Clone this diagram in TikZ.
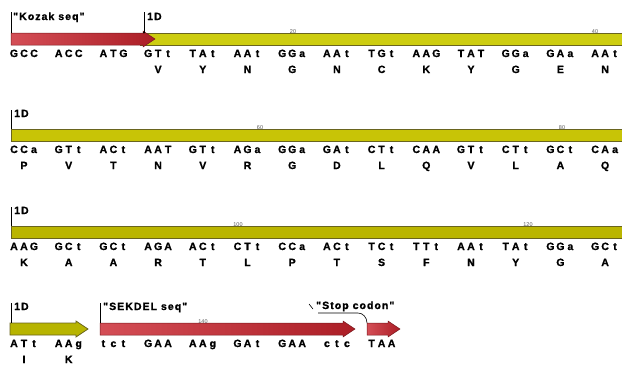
\documentclass[tikz,border=0pt]{standalone}
\usepackage{fontspec}
\setmainfont{Liberation Sans}
\newfontfamily\lblfont[LetterSpace=10,BoldFeatures={FakeBold=1.2}]{Liberation Sans}
\newfontfamily\codfont[BoldFeatures={FakeBold=1.2}]{Liberation Sans}
\definecolor{yA}{RGB}{205,205,16}
\definecolor{yB}{RGB}{200,196,6}
\definecolor{yC}{RGB}{186,181,0}
\definecolor{yD}{RGB}{183,180,0}
\definecolor{yEdge}{RGB}{105,100,30}
\definecolor{redL}{RGB}{212,78,86}
\definecolor{redR}{RGB}{172,30,38}
\definecolor{redEdge}{RGB}{120,25,30}
\newcommand\cdn[3]{\makebox[10pt]{#1}\makebox[10pt]{#2}\makebox[10pt]{#3}}
\tikzset{
  cod/.style={font=\codfont\bfseries\fontsize{10.5}{10.5}\selectfont, inner sep=0pt, anchor=base},
  lbl/.style={font=\lblfont\bfseries\fontsize{10.5}{10.5}\selectfont, inner sep=0pt, anchor=base west},
  num/.style={font=\fontsize{5.5}{5.5}\selectfont, text=black!65, inner sep=0pt, anchor=base},
  tickline/.style={draw=black, line width=0.7pt},
  ybar/.style={draw=yEdge, line width=0.8pt},
  rarrow/.style={left color=redL, right color=redR, draw=redEdge, line width=0.5pt},
  leader/.style={draw=black, line width=0.6pt}
}
% arrow shape: x1, x2 (tip), top y
\newcommand\arrowshape[3]{(#1,#3) -- ({#2-12},#3) -- ({#2-12},{#3-2}) -- (#2,{#3+6}) -- ({#2-12},{#3+14}) -- ({#2-12},{#3+12}) -- (#1,{#3+12}) -- cycle}
% row of codons: name, bar top, list a/b/c/aa
\newcommand\seqrow[3]{%
  \foreach \a/\b/\c/\p [count=\i from 0] in {#3} {
    \node[cod] (#1c\i) at ({24+44.7*\i},{#2+24}) {\cdn{\a}{\b}{\c}};
    \node[cod] (#1a\i) at ({24+44.7*\i},{#2+40}) {\p};
  }}
\begin{document}
\begin{tikzpicture}[x=1pt,y=-1pt]
\clip (0,0) rectangle (622,365);
\fill[white] (0,0) rectangle (622,365);

% ---------- row 1 ----------
\fill[yA] (140,33) rectangle (630,45);
\draw[ybar] (140,33) -- (630,33) (140,45) -- (630,45);
\draw[rarrow] \arrowshape{11}{155}{33};
\draw[tickline] (11,12) -- (11,33);
\draw[tickline] (144,12) -- (144,33);
\fill (144,32.5) circle (1pt);
\node[lbl] (kozak) at (13,20) {"Kozak seq"};
\node[lbl] (d1) at (147,20) {1D};
\node[num] (n20) at (293,33.3) {20};
\node[num] (n40) at (595,33.3) {40};
\seqrow{r1}{33}{G/C/C/{}, A/C/C/{}, A/T/G/{}, G/T/t/V, T/A/t/Y, A/A/t/N, G/G/a/G, A/A/t/N, T/G/t/C, A/A/G/K, T/A/T/Y, G/G/a/G, G/A/a/E, A/A/t/N}

% ---------- row 2 ----------
\fill[yB] (11,129) rectangle (630,141);
\draw[ybar] (11,129) -- (630,129) (11,141) -- (630,141) (11,129) -- (11,141);
\draw[tickline] (11,110) -- (11,129);
\node[lbl] (d2) at (14,117) {1D};
\node[num] (n60) at (260,129.3) {60};
\node[num] (n80) at (562,129.3) {80};
\seqrow{r2}{129}{C/C/a/P, G/T/t/V, A/C/t/T, A/A/T/N, G/T/t/V, A/G/a/R, G/G/a/G, G/A/t/D, C/T/t/L, C/A/A/Q, G/T/t/V, C/T/t/L, G/C/t/A, C/A/a/Q}

% ---------- row 3 ----------
\fill[yC] (11,226) rectangle (630,238);
\draw[ybar] (11,226) -- (630,226) (11,238) -- (630,238) (11,226) -- (11,238);
\draw[tickline] (11,207) -- (11,226);
\node[lbl] (d3) at (14,214) {1D};
\node[num] (n100) at (238,226.3) {100};
\node[num] (n120) at (528,226.3) {120};
\seqrow{r3}{226}{A/A/G/K, G/C/t/A, G/C/t/A, A/G/A/R, A/C/t/T, C/T/t/L, C/C/a/P, A/C/t/T, T/C/t/S, T/T/t/F, A/A/t/N, T/A/t/Y, G/G/a/G, G/C/t/A}

% ---------- row 4 ----------
\draw[ybar, fill=yD] \arrowshape{10}{88}{323};
\draw[rarrow] \arrowshape{100}{355}{323};
\draw[rarrow] \arrowshape{367}{400}{323};
\draw[tickline] (11,303) -- (11,323);
\draw[tickline] (100,303) -- (100,323);
\node[lbl] (d4) at (14,310) {1D};
\node[lbl] (sekdel) at (103,310) {"SEKDEL seq"};
\node[lbl] (stop) at (316,309) {"Stop codon"};
\draw[leader] (309,304) -- (313,309);
\draw[leader] (318,313) -- (358,313) to[out=0,in=90] (367,323);
\node[num] (n140) at (203,323.3) {140};
\seqrow{r4}{323}{A/T/t/I, A/A/g/K, t/c/t/{}, G/A/A/{}, A/A/g/{}, G/A/t/{}, G/A/A/{}, c/t/c/{}, T/A/A/{}}
\end{tikzpicture}
\end{document}
